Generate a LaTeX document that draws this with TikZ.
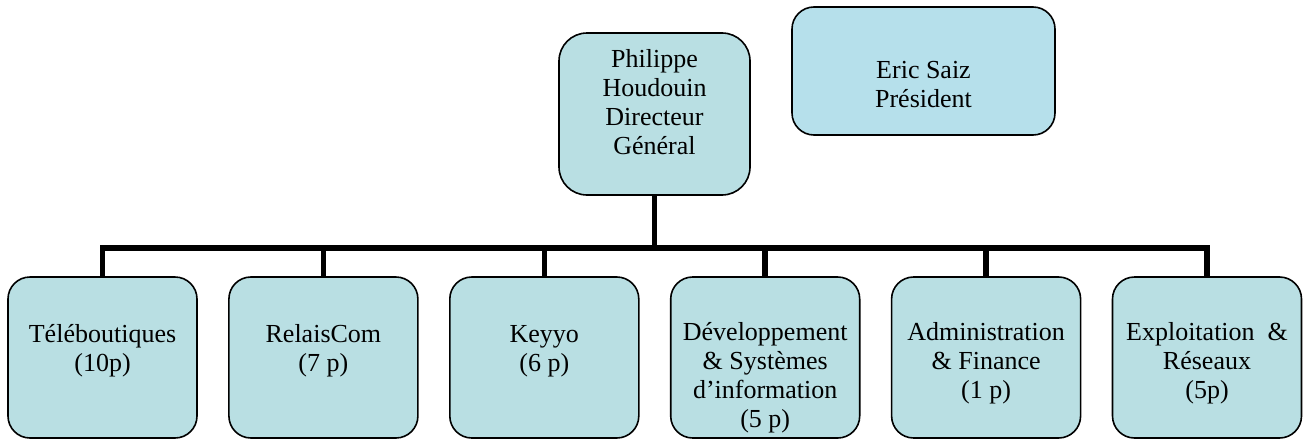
\documentclass[tikz,border=0pt]{standalone}
\usepackage{fontspec}
\setmainfont{Liberation Serif}
\definecolor{boxfill}{HTML}{B9DFE3}
\definecolor{presfill}{HTML}{B6E0EB}
\tikzset{
  orgbox/.style={draw=black, line width=1.6pt, fill=boxfill, rounded corners=22pt,
    minimum width=189pt, minimum height=161pt, inner sep=0pt},
  orgtext/.style={anchor=base, inner sep=0pt, font=\fontsize{26pt}{29pt}\selectfont},
  link/.style={line width=5.5pt, line join=miter}
}
\newcommand{\orglines}[2]{\parbox[t]{#1pt}{\centering #2}}
\begin{document}
\begin{tikzpicture}[x=1pt,y=-1pt]
\useasboundingbox (0,0) rectangle (1305,439);
% top boxes
\node[orgbox, rounded corners=28pt, minimum width=191pt, minimum height=162pt] (dg) at (654.5,114) {};
\node[orgbox, fill=presfill, rounded corners=22pt, minimum width=263pt, minimum height=128pt] (pres) at (923.5,71) {};
% bottom boxes
\foreach \i/\x in {1/102.5,2/323.4,3/544.3,4/765.2,5/986.1,6/1207}
  \node[orgbox] (b\i) at (\x,357.5) {};
% texts
\node[orgtext] (dgt) at (654.5,67) {\orglines{180}{Philippe\\Houdouin\\Directeur\\Général}};
\node[orgtext] (prest) at (923.5,78) {\orglines{250}{Eric Saiz\\Président}};
\node[orgtext] (t1) at (b1 |- 0,342) {\orglines{185}{Téléboutiques\\(10p)}};
\node[orgtext] (t2) at (b2 |- 0,342) {\orglines{185}{RelaisCom\\(7 p)}};
\node[orgtext] (t3) at (b3 |- 0,342) {\orglines{185}{Keyyo\\(6 p)}};
\begin{scope}
\clip (b4.south west) rectangle ([yshift=-2pt]b4.north east);
\node[orgtext] (t4) at (b4 |- 0,340) {\orglines{185}{Développement\\\& Systèmes\\d’information\\(5 p)}};
\end{scope}
\node[orgtext] (t5) at (b5 |- 0,340) {\orglines{185}{Administration\\\& Finance\\(1 p)}};
\node[orgtext] (t6) at (b6 |- 0,340) {\orglines{185}{Exploitation~~\&\\Réseaux\\(5p)}};
% connectors
\coordinate (bar) at (654.5,248);
\draw[link] (dg.south) -- (bar);
\draw[link] (b1.north) |- (bar) -| (b6.north);
\foreach \i in {2,3,4,5}
  \draw[link] (b\i.north) -- (b\i.north |- bar);
\end{tikzpicture}
\end{document}
